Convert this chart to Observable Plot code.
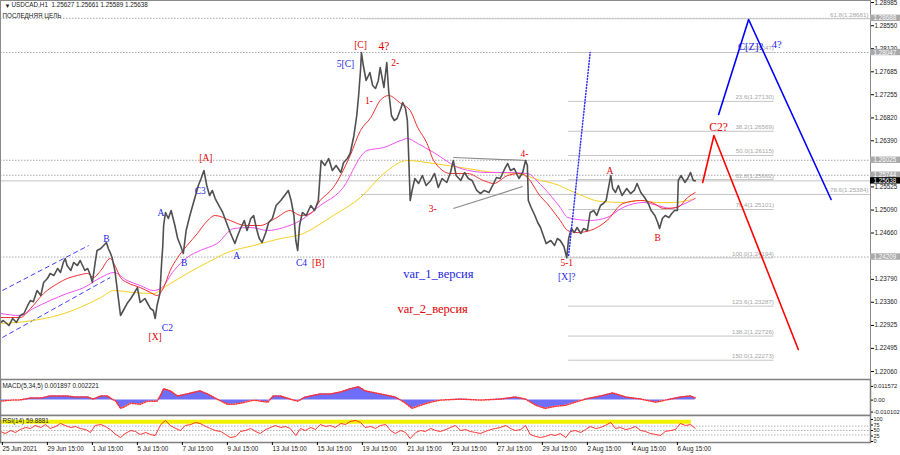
<!DOCTYPE html>
<html><head><meta charset="utf-8">
<script src="https://cdn.jsdelivr.net/npm/d3@7"></script>
<script src="https://cdn.jsdelivr.net/npm/@observablehq/plot@0.6"></script>
<style>
body{margin:0;background:#fff;}
#wrap{position:relative;width:900px;height:455px;overflow:hidden;background:#fff;}
#wrap svg{position:absolute;left:0;overflow:visible;}
</style></head><body><div id="wrap"></div>
<script>
// ---------- DATA ----------
const headerText = "USDCAD,H1  1.25627 1.25661 1.25589 1.25638";
const targetName = "ПОСЛЕДНЯЯ ЦЕЛЬ";
const xLabels = ["25 Jun 2021","29 Jun 15:00","1 Jul 15:00","5 Jul 15:00","7 Jul 15:00","9 Jul 15:00","13 Jul 15:00","15 Jul 15:00","19 Jul 15:00","21 Jul 15:00","23 Jul 15:00","27 Jul 15:00","29 Jul 15:00","2 Aug 15:00","4 Aug 15:00","6 Aug 15:00"];
const tickHours = [0,48,96,144,192,240,288,336,384,432,480,528,576,624,672,720];
// visible price-scale ticks (1.25955 and 1.24225 are hidden under level boxes in the reference)
const priceTicks = [1.28985,1.28550,1.28120,1.27685,1.27255,1.26820,1.26390,1.25525,1.25090,1.24660,1.23790,1.23360,1.22925,1.22495,1.22060];

// [hour index, close]
const closes = [[-2,1.22981],[1,1.23018],[7,1.22924],[11,1.23056],[15,1.22981],[19,1.23112],[23,1.23149],[27,1.23300],[30,1.23394],[33,1.23370],[37,1.23581],[41,1.23487],[44,1.23731],[48,1.23806],[51,1.23900],[55,1.23863],[59,1.23994],[62,1.23919],[65,1.24107],[67,1.24182],[69,1.24050],[73,1.23957],[76,1.24107],[80,1.24050],[83,1.24144],[88,1.23957],[91,1.23994],[94,1.23863],[96,1.23731],[99,1.24107],[101,1.24332],[105,1.24369],[108,1.24425],[111,1.24482],[113,1.24369],[115,1.24294],[117,1.24200],[120,1.23957],[122,1.23675],[124,1.23394],[126,1.23112],[129,1.23206],[133,1.23337],[137,1.23431],[141,1.23544],[144,1.23637],[147,1.23356],[152,1.23431],[155,1.23337],[158,1.23243],[161,1.23206],[163,1.23056],[165,1.23300],[168,1.23525],[170,1.24144],[171,1.24388],[172,1.24801],[174,1.25045],[177,1.24932],[180,1.25082],[184,1.24801],[187,1.24557],[190,1.24425],[193,1.24275],[196,1.24707],[200,1.24988],[203,1.25176],[206,1.25364],[209,1.25552],[212,1.25683],[215,1.25833],[218,1.25552],[221,1.25364],[224,1.25458],[227,1.25307],[231,1.25176],[235,1.25045],[239,1.24857],[243,1.24669],[248,1.24463],[251,1.24613],[254,1.24745],[258,1.24895],[261,1.24707],[265,1.24932],[268,1.24988],[271,1.24745],[274,1.24557],[277,1.24482],[281,1.24669],[284,1.24857],[288,1.24932],[292,1.25176],[297,1.25270],[301,1.25364],[305,1.25458],[308,1.25270],[311,1.24988],[313,1.24519],[315,1.24332],[317,1.24801],[320,1.25045],[324,1.24988],[329,1.25176],[333,1.25082],[337,1.25270],[340,1.26021],[344,1.25927],[348,1.26058],[352,1.25833],[356,1.25927],[361,1.25796],[364,1.25983],[368,1.26058],[371,1.26152],[375,1.26490],[378,1.26865],[380,1.27240],[382,1.27709],[383,1.28047],[385,1.27803],[388,1.27522],[392,1.27672],[395,1.27428],[398,1.27372],[401,1.27522],[403,1.27766],[407,1.27390],[410,1.27860],[412,1.27334],[415,1.26865],[418,1.26771],[421,1.26809],[425,1.26996],[427,1.27109],[430,1.26996],[432,1.26771],[433,1.26302],[435,1.25270],[437,1.25458],[440,1.25683],[444,1.25589],[448,1.25739],[452,1.25552],[457,1.25646],[461,1.25777],[465,1.25514],[469,1.25683],[474,1.25608],[478,1.25796],[481,1.26021],[484,1.25739],[489,1.25646],[493,1.25796],[497,1.25683],[501,1.25646],[506,1.25458],[510,1.25401],[514,1.25458],[519,1.25420],[523,1.25552],[527,1.25702],[531,1.25683],[536,1.25871],[539,1.25964],[542,1.25833],[546,1.25871],[551,1.25683],[555,1.25796],[558,1.26021],[560,1.25927],[561,1.25270],[564,1.25139],[568,1.24988],[571,1.24857],[574,1.24763],[577,1.24613],[580,1.24463],[585,1.24519],[589,1.24425],[592,1.24557],[595,1.24519],[599,1.24407],[602,1.24194],[604,1.24557],[607,1.24745],[610,1.24669],[613,1.24763],[617,1.24651],[620,1.24745],[624,1.24707],[627,1.25045],[631,1.25082],[634,1.24988],[638,1.25176],[641,1.25214],[644,1.25270],[647,1.25552],[649,1.25739],[651,1.25495],[654,1.25420],[657,1.25552],[661,1.25364],[666,1.25495],[670,1.25401],[674,1.25458],[677,1.25589],[681,1.25420],[685,1.25326],[689,1.25214],[692,1.25082],[696,1.24988],[699,1.24857],[701,1.24745],[704,1.24932],[707,1.24988],[711,1.24951],[714,1.25026],[717,1.25082],[720,1.25082],[721,1.25646],[724,1.25739],[728,1.25608],[731,1.25683],[734,1.25796],[737,1.25646],[739,1.25638]];

const maFast = [[-2,1.23074],[19,1.23074],[30,1.23243],[44,1.23525],[59,1.23712],[69,1.23806],[80,1.23863],[91,1.23900],[97,1.23825],[105,1.23957],[115,1.24182],[121,1.24013],[126,1.23825],[133,1.23731],[147,1.23637],[158,1.23544],[165,1.23487],[172,1.23637],[179,1.23957],[187,1.24200],[197,1.24425],[208,1.24651],[217,1.24857],[227,1.24988],[243,1.24895],[259,1.24801],[275,1.24801],[291,1.24932],[307,1.25082],[318,1.24988],[329,1.25026],[339,1.25270],[353,1.25514],[371,1.26115],[382,1.26583],[393,1.26827],[403,1.27147],[412,1.27240],[425,1.27090],[435,1.26959],[443,1.26640],[453,1.26340],[460,1.26021],[478,1.25777],[496,1.25777],[513,1.25646],[524,1.25589],[539,1.25739],[553,1.25777],[560,1.25702],[574,1.25345],[581,1.25214],[595,1.24895],[603,1.24707],[613,1.24669],[627,1.24707],[645,1.24895],[662,1.25214],[681,1.25270],[695,1.25214],[705,1.25120],[720,1.25139],[731,1.25326],[739,1.25420]];
const maMid = [[-2,1.23149],[19,1.23112],[33,1.23243],[51,1.23394],[69,1.23525],[87,1.23637],[105,1.23825],[119,1.23919],[133,1.23769],[147,1.23675],[161,1.23581],[169,1.23619],[183,1.23957],[197,1.24200],[211,1.24332],[229,1.24463],[247,1.24745],[265,1.24763],[283,1.24707],[300,1.24763],[318,1.24895],[339,1.25176],[361,1.25458],[389,1.26208],[407,1.26265],[425,1.26396],[432,1.26433],[443,1.26340],[460,1.26171],[489,1.25871],[517,1.25796],[539,1.25796],[560,1.25777],[574,1.25570],[595,1.25139],[603,1.24951],[627,1.24895],[645,1.24951],[662,1.25139],[684,1.25233],[699,1.25176],[713,1.25120],[723,1.25176],[739,1.25307]];
const maSlow = [[-2,1.22962],[33,1.23018],[69,1.23168],[105,1.23450],[119,1.23581],[140,1.23544],[161,1.23525],[176,1.23675],[197,1.23900],[219,1.24107],[240,1.24294],[268,1.24425],[297,1.24557],[318,1.24632],[353,1.24988],[382,1.25326],[407,1.25777],[432,1.26021],[460,1.25964],[496,1.25871],[524,1.25796],[549,1.25777],[574,1.25646],[588,1.25589],[613,1.25401],[638,1.25251],[662,1.25233],[681,1.25270],[699,1.25233],[716,1.25233],[731,1.25270],[739,1.25307]];

const dottedLevels = [1.28688, 1.28047, 1.26025, 1.25744, 1.24209];
const bidPrice = 1.25638;
const fibA = [[61.8, 1.28681], [78.6, 1.25384]];
const fibB = [[0.0,1.28047],[23.6,1.27130],[38.2,1.26569],[50.0,1.26115],[61.8,1.25662],[76.4,1.25101],[100.0,1.24194],[123.6,1.23287],[138.2,1.22726],[150.0,1.22273],[161.8,1.21816]];
const fibBHours = [604, 823];
const fibAHours = [383, 926];

const channelLines = [[0,1.23581,92,1.24425],[0,1.22699,115,1.23825]];
const triangleLines = [[481,1.26077,560,1.26021],[481,1.25120,555,1.25533]];
const blueDotted = [[604,1.24238],[627,1.28047]];
const projBlue = [[764,1.26884],[796,1.28666],[884,1.25289]];
const projRed = [[747,1.25608],[759,1.26490],[849,1.22474]];

const redLabels = [["[C]",382,1.28197],["2-",419,1.27860],["1-",391,1.27147],["3-",459,1.25120],["4-",557,1.26152],["5-1",602,1.24107],["A",648,1.25833],["B",699,1.24576],["[X]",163,1.22718],["[A]",217,1.26077],["[B]",337,1.24107]];
const redBig = [["4?",407,1.28160],["C2?",764,1.26640]];
const blueLabels = [["5[C]",366,1.27841],["[X]?",602,1.23844],["B",111,1.24557],["C2",176,1.22887],["A",169,1.25045],["B",194,1.24107],["C3",211,1.25458],["A",250,1.24238],["C4",319,1.24107]];
const blueBig = [["C[Z]?",798,1.28160],["4?",826,1.28197]];
const variants = [["var_1_версия",465,1.23900,"blue"],["var_2_версия",459,1.23243,"red"]];

const macdTitle = "MACD(5,34,5) 0.001897 0.002221";
const macdTicks = [0.011572, 0, -0.010102];
const macd = [[-2,-0.00087],[9,0.0],[19,0.0002],[30,0.00173],[41,0.00173],[51,0.00347],[62,0.00347],[69,0.00347],[78,0.0026],[91,0.0026],[97,0.00087],[105,0.00347],[112,0.00347],[117,0.00087],[121,-0.00087],[126,-0.00694],[129,-0.00607],[137,-0.0026],[147,-0.00347],[155,-0.00087],[165,-0.00087],[169,0.00434],[172,0.00954],[179,0.0078],[187,0.00347],[197,0.0052],[211,0.0078],[219,0.0052],[229,0.00087],[240,-0.00347],[247,-0.00347],[254,-0.0026],[268,0.0],[283,-0.00173],[289,0.00347],[297,0.00347],[307,0.00087],[315,-0.00087],[323,0.0026],[339,0.0052],[350,0.0052],[361,0.00694],[371,0.00954],[380,0.01127],[387,0.0078],[398,0.00607],[409,0.00434],[419,0.0026],[425,0.0],[430,-0.0026],[437,-0.00694],[446,-0.00434],[457,-0.00173],[467,0.0],[489,0.00087],[510,0.0],[531,0.00087],[547,0.0026],[558,0.00087],[569,-0.00434],[579,-0.00694],[590,-0.0052],[601,-0.00434],[611,-0.00173],[622,0.00087],[638,0.00347],[651,0.00607],[665,0.0026],[681,0.00087],[697,-0.00173],[707,0.0],[723,0.0026],[734,0.00347],[739,0.0019]];

const rsiTitle = "RSI(14) 59.8881";
const rsiTicks = [100, 75, 50, 25, 0];
const rsiLevels = [30, 50, 70];
const rsiValues = [45.5,36.4,50,40.9,54.5,63.6,59.1,72.7,63.6,77.3,59.1,68.2,81.8,72.7,63.6,68.2,59.1,54.5,40.9,72.7,77.3,68.2,54.5,31.8,18.2,36.4,50,45.5,31.8,40.9,31.8,27.3,77.3,95.5,72.7,59.1,50,72.7,77.3,86.4,81.8,68.2,59.1,50,45.5,31.8,18.2,22.7,45.5,50,59.1,45.5,36.4,54.5,63.6,72.7,63.6,68.2,59.1,27.3,59.1,50,63.6,54.5,77.3,68.2,72.7,63.6,81.8,77.3,90.9,95.5,86.4,63.6,68.2,59.1,72.7,77.3,50,36.4,50,40.9,13.6,40.9,50,45.5,59.1,50,45.5,54.5,63.6,72.7,50,54.5,45.5,40.9,36.4,45.5,54.5,59.1,63.6,72.7,59.1,50,54.5,72.7,31.8,22.7,18.2,22.7,31.8,27.3,36.4,18.2,45.5,50,40.9,54.5,68.2,59.1,63.6,72.7,86.4,59.1,63.6,54.5,59.1,68.2,50,45.5,36.4,31.8,27.3,45.5,50,54.5,81.8,72.7,77.3,59.9];
const rsiHours = rsiValues.map((_, i) => Math.round(i * 16 / 3) - 2); // hourly grid, one sample every ~5 bars
const rsiBand = 90;

// ---------- DRAWING ----------
const xDomain = [-2, 926];
const base = {width: 900, marginLeft: 0, marginRight: 30, x: {domain: xDomain, axis: null}};
const sans = "Liberation Sans, Arial, sans-serif";
const serif = "Liberation Serif, Times New Roman, serif";
const wrap = document.getElementById("wrap");
const P = a => ({x: a[0], y: a[1]});

const main = Plot.plot({
  ...base, height: 380, marginTop: 0, marginBottom: 1,
  y: {domain: [1.21911, 1.29023], axis: null},
  style: {fontFamily: sans, background: "transparent", overflow: "visible"},
  marks: [
    Plot.ruleY(dottedLevels, {stroke: "#a8a8a8", strokeDasharray: "1.5,1.5"}),
    Plot.ruleY([bidPrice], {stroke: "#c4c4c4"}),
    Plot.ruleY(fibA, {y: d => d[1], x1: fibAHours[0], x2: fibAHours[1], stroke: "#c4c4c4"}),
    Plot.text(fibA, {y: d => d[1], x: fibAHours[1], text: d => `${d[0].toFixed(1)}(${d[1].toFixed(5)})`, textAnchor: "end", dx: -2, dy: -4, fill: "#a6a6a6", fontSize: 6.2}),
    Plot.ruleY(fibB, {y: d => d[1], x1: fibBHours[0], x2: fibBHours[1], stroke: "#c4c4c4"}),
    Plot.text(fibB, {y: d => d[1], x: fibBHours[1], text: d => `${d[0].toFixed(1)}(${d[1].toFixed(5)})`, textAnchor: "end", dy: -4, fill: "#a6a6a6", fontSize: 6.2}),
    Plot.link(channelLines, {x1: d => d[0], y1: d => d[1], x2: d => d[2], y2: d => d[3], stroke: "#3c3cff", strokeDasharray: "5,3"}),
    Plot.link(triangleLines, {x1: d => d[0], y1: d => d[1], x2: d => d[2], y2: d => d[3], stroke: "#8c8c8c", strokeWidth: 1.2}),
    Plot.line(maSlow.map(P), {x: "x", y: "y", stroke: "#f5d020", strokeWidth: 1, curve: "monotone-x"}),
    Plot.line(maMid.map(P), {x: "x", y: "y", stroke: "#f050f0", strokeWidth: 1, curve: "monotone-x"}),
    Plot.line(maFast.map(P), {x: "x", y: "y", stroke: "#f03030", strokeWidth: 1, curve: "monotone-x"}),
    Plot.line(closes.map(P), {x: "x", y: "y", stroke: "#505050", strokeWidth: 1.6}),
    Plot.line(blueDotted.map(P), {x: "x", y: "y", stroke: "#3030ff", strokeDasharray: "1,2"}),
    Plot.line(projBlue.map(P), {x: "x", y: "y", stroke: "#0000ff", strokeWidth: 1.6}),
    Plot.line(projRed.map(P), {x: "x", y: "y", stroke: "#ff0000", strokeWidth: 1.6}),
    Plot.text(redLabels, {x: d => d[1], y: d => d[2], text: d => d[0], fill: "#e00000", fontFamily: serif, fontSize: 9.5}),
    Plot.text(redBig, {x: d => d[1], y: d => d[2], text: d => d[0], fill: "#e00000", fontFamily: serif, fontSize: 11.5}),
    Plot.text(blueLabels, {x: d => d[1], y: d => d[2], text: d => d[0], fill: "#1e1ee0", fontFamily: serif, fontSize: 9.5}),
    Plot.text(blueBig, {x: d => d[1], y: d => d[2], text: d => d[0], fill: "#1e1ee0", fontFamily: serif, fontSize: 10.5}),
    Plot.text(variants, {x: d => d[1], y: d => d[2], text: d => d[0], fill: d => d[3] === "blue" ? "#1e1ee0" : "#e00000", fontFamily: serif, fontSize: 12.5}),
    Plot.frame({stroke: "#8a8a8a"}),
    Plot.axisY({anchor: "right", label: null, ticks: priceTicks, tickFormat: d => d.toFixed(5), tickSize: 3, tickPadding: 1, fontSize: 6.3, fill: "#202020"}),
    Plot.rect(dottedLevels, {x1: xDomain[1], x2: xDomain[1] + 32, y1: d => d - 0.0006, y2: d => d + 0.0006, fill: "#a9a9a9"}),
    Plot.text(dottedLevels, {x: xDomain[1], y: d => d, text: d => d.toFixed(5), textAnchor: "start", dx: 3, fill: "white", fontSize: 6.3}),
    Plot.rect([bidPrice], {x1: xDomain[1], x2: xDomain[1] + 32, y1: d => d - 0.0006, y2: d => d + 0.0006, fill: "#000"}),
    Plot.text([bidPrice], {x: xDomain[1], y: d => d, text: d => d.toFixed(5), textAnchor: "start", dx: 3, fill: "white", fontSize: 6.3}),
    Plot.text(["▼"], {frameAnchor: "top-left", dx: 4, dy: 3, fontSize: 6, fill: "#202020"}),
    Plot.text([headerText], {frameAnchor: "top-left", dx: 11, dy: 2, fontSize: 6.3, fill: "#202020"}),
    Plot.text([targetName], {frameAnchor: "top-left", dx: 2, dy: 13, fontSize: 6.3, fill: "#202020"})
  ]
});
main.style.top = "0px";
wrap.appendChild(main);

const macdPlot = Plot.plot({
  ...base, height: 36, marginTop: 0, marginBottom: 0,
  y: {domain: [-0.01296, 0.01738], axis: null},
  style: {fontFamily: sans, background: "white", overflow: "visible"},
  marks: [
    Plot.areaY(macd.map(P), {x: "x", y: "y", fill: "#6e6ef8"}),
    Plot.line(macd.map(P), {x: "x", y: "y", stroke: "#ff3030", strokeDasharray: "1,1.5"}),
    Plot.frame({stroke: "#808080", strokeWidth: 1.5}),
    Plot.axisY({anchor: "right", label: null, ticks: macdTicks, tickFormat: d => d === 0 ? "0.00" : String(d), tickSize: 2, tickPadding: 1, fontSize: 5.8, fill: "#202020"}),
    Plot.text([macdTitle], {frameAnchor: "top-left", dx: 2, dy: 4, fontSize: 6.3, fill: "#202020"})
  ]
});
macdPlot.style.top = "379px";
wrap.appendChild(macdPlot);

const rsiPlot = Plot.plot({
  ...base, height: 40, marginTop: 0, marginBottom: 13,
  y: {domain: [-4.5, 118.2], axis: null},
  style: {fontFamily: sans, background: "white", overflow: "visible"},
  marks: [
    Plot.ruleY(rsiLevels, {stroke: "#b4b4b4", strokeDasharray: "1.5,1.5"}),
    Plot.ruleY([rsiBand], {x1: xDomain[0], x2: 735, stroke: "#f2f200", strokeWidth: 4}),
    Plot.line(rsiValues.map((v, i) => ({x: rsiHours[i], y: v})), {x: "x", y: "y", stroke: "#ff2020", strokeWidth: 0.9}),
    Plot.frame({stroke: "#808080", strokeWidth: 1.5}),
    Plot.axisY({anchor: "right", label: null, ticks: rsiTicks, tickSize: 2, tickPadding: 1, fontSize: 5.5, fill: "#202020"}),
    Plot.axisX({anchor: "bottom", label: null, ticks: tickHours, tickFormat: d => xLabels[tickHours.indexOf(d)], tickSize: 3, tickPadding: 1, textAnchor: "start", dx: 0, fontSize: 6.3, fill: "#202020"}),
    Plot.text([rsiTitle], {frameAnchor: "top-left", dx: 2, dy: 3, fontSize: 6.3, fill: "#202020"})
  ]
});
rsiPlot.style.top = "415px";
wrap.appendChild(rsiPlot);
</script></body></html>
